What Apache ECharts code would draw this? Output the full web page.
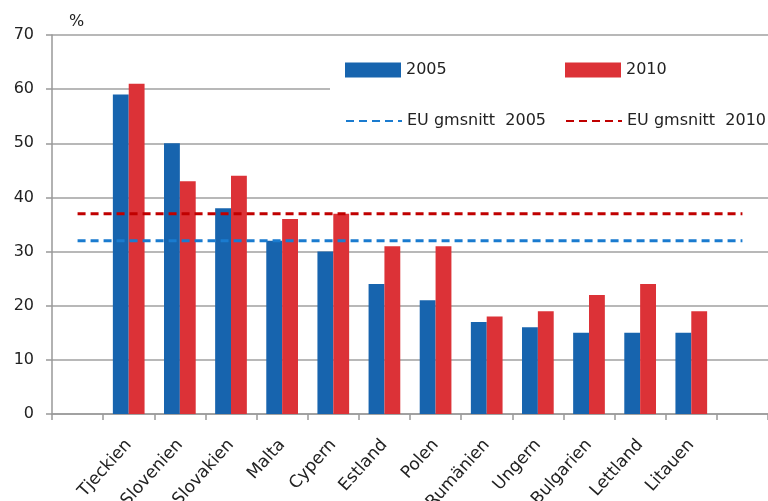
<!DOCTYPE html>
<html>
<head>
<meta charset="utf-8">
<script src="https://cdn.jsdelivr.net/npm/echarts@6/dist/echarts.min.js"></script>
<style>html,body{margin:0;padding:0;background:#fff;}#c{width:768px;height:501px;}</style>
</head>
<body>
<div id="c"></div>
<script>
const categories = ['', 'Tjeckien', 'Slovenien', 'Slovakien', 'Malta', 'Cypern', 'Estland', 'Polen', 'Rumänien', 'Ungern', 'Bulgarien', 'Lettland', 'Litauen', ''];
const values2005 = [null, 59, 50, 38, 32, 30, 24, 21, 17, 16, 15, 15, 15, null];
const values2010 = [null, 61, 43, 44, 36, 37, 31, 31, 18, 19, 22, 24, 19, null];
const euAvg2005 = 32;
const euAvg2010 = 37;
const avgLine2005 = categories.map(() => euAvg2005);
const avgLine2010 = categories.map(() => euAvg2010);
const yTicks = [0, 10, 20, 30, 40, 50, 60, 70];

const FONT = "'DejaVu Sans', Verdana, sans-serif";
const chart = echarts.init(document.getElementById('c'));
const legendBase = {
  itemWidth: 56, itemHeight: 15, itemGap: 5,
  textStyle: { fontFamily: FONT, fontSize: 16, color: '#222' },
  selectedMode: false
};
chart.setOption({
  animation: false,
  backgroundColor: '#fff',
  title: { text: '%', left: 64, top: 9, textStyle: { fontFamily: FONT, fontSize: 16, fontWeight: 'normal', color: '#222' } },
  graphic: { elements: [{ type: 'rect', z: 1, shape: { x: 330, y: 46, width: 438, height: 88 }, style: { fill: '#fff' } }] },
  legend: [
    Object.assign({}, legendBase, { data: [{ name: '2005', icon: 'rect' }], left: 340, top: 57 }),
    Object.assign({}, legendBase, { data: [{ name: '2010', icon: 'rect' }], left: 560, top: 57 }),
    Object.assign({}, legendBase, { data: ['EU gmsnitt  2005'], left: 340, top: 108, itemStyle: { opacity: 0 } }),
    Object.assign({}, legendBase, { data: ['EU gmsnitt  2010'], left: 560, top: 108, itemStyle: { opacity: 0 } })
  ],
  grid: { left: 52, right: 0, top: 35, bottom: 87, containLabel: false, outerBoundsMode: 'none' },
  xAxis: {
    type: 'category',
    data: categories,
    axisLine: { lineStyle: { color: '#999', width: 1.5 } },
    axisTick: { show: true, length: 6, lineStyle: { color: '#999', width: 1.5 } },
    axisLabel: { rotate: 48, interval: 0, margin: 28, fontFamily: FONT, fontSize: 17, color: '#222' }
  },
  yAxis: {
    type: 'value', min: 0, max: 70, interval: 10,
    axisLine: { show: true, lineStyle: { color: '#999', width: 1.5 } },
    axisTick: { show: true, length: 6, lineStyle: { color: '#999', width: 1.5 } },
    splitLine: { lineStyle: { color: '#a0a0a0', width: 1.5 } },
    axisLabel: { margin: 18, fontFamily: FONT, fontSize: 16, color: '#222',
      formatter: v => yTicks.includes(v) ? String(v) : '' }
  },
  series: [
    { name: '2005', type: 'bar', data: values2005, barGap: '0%', barCategoryGap: '38%', itemStyle: { color: '#1764ae' } },
    { name: '2010', type: 'bar', data: values2010, itemStyle: { color: '#dc3237' } },
    { name: 'EU gmsnitt  2005', type: 'line', data: avgLine2005, symbol: 'none', z: 3,
      lineStyle: { color: '#1a7bcf', width: 3, type: [8, 5] }, itemStyle: { color: '#1a7bcf' } },
    { name: 'EU gmsnitt  2010', type: 'line', data: avgLine2010, symbol: 'none', z: 3,
      lineStyle: { color: '#c00000', width: 3, type: [8, 5] }, itemStyle: { color: '#c00000' } }
  ]
});
</script>
</body>
</html>
